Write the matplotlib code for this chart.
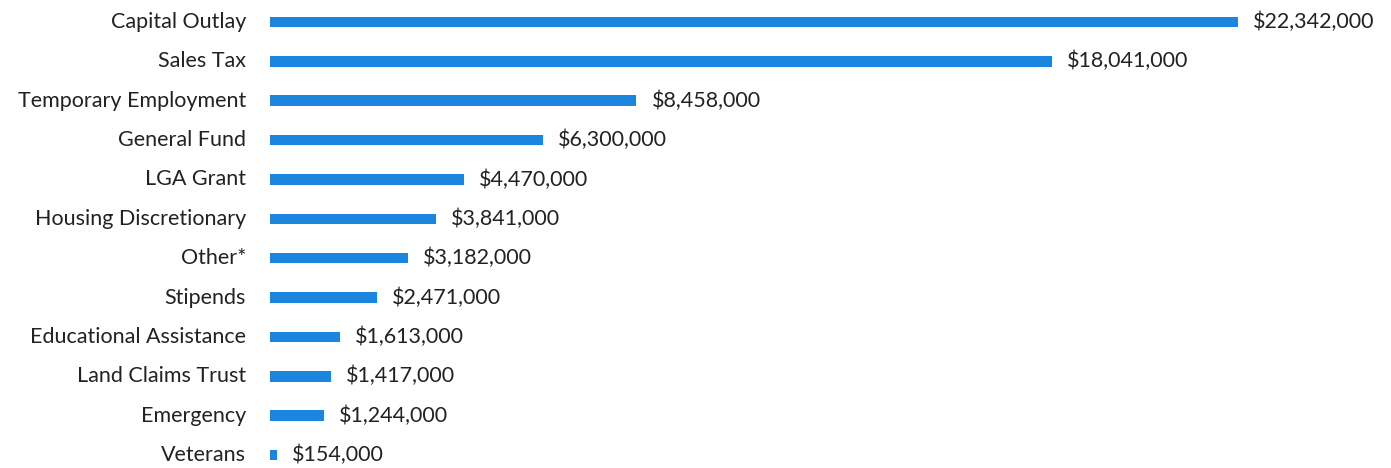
import matplotlib.pyplot as plt

categories = ["Capital Outlay", "Sales Tax", "Temporary Employment", "General Fund",
              "LGA Grant", "Housing Discretionary", "Other*", "Stipends",
              "Educational Assistance", "Land Claims Trust", "Emergency", "Veterans"]
amounts = [22342000, 18041000, 8458000, 6300000, 4470000, 3841000,
           3182000, 2471000, 1613000, 1417000, 1244000, 154000]

plt.rcParams['font.family'] = ['Lato', 'DejaVu Sans']

W, H = 1391, 468
fig = plt.figure(figsize=(W / 100, H / 100), dpi=100)
ax = fig.add_axes([270 / W, 0, 1 - 270 / W, 1])

px_per_dollar = (1238 - 270) / 22342000
row = 39.36
ax.barh(range(len(categories)), amounts, height=0.27, color="#1a86df")
ax.set_xlim(0, (W - 270) / px_per_dollar)
ax.set_ylim(11 + 13 / row, -22 / row)

for i, (c, v) in enumerate(zip(categories, amounts)):
    ax.text(v + 15 / px_per_dollar, i, f"${v:,}", va="center", ha="left",
            fontsize=15.5, color="#222222")
    ax.text(-24 / px_per_dollar, i, c, va="center", ha="right",
            fontsize=15.5, color="#222222", clip_on=False)

ax.axis("off")
fig.savefig("out.png", dpi=100)
